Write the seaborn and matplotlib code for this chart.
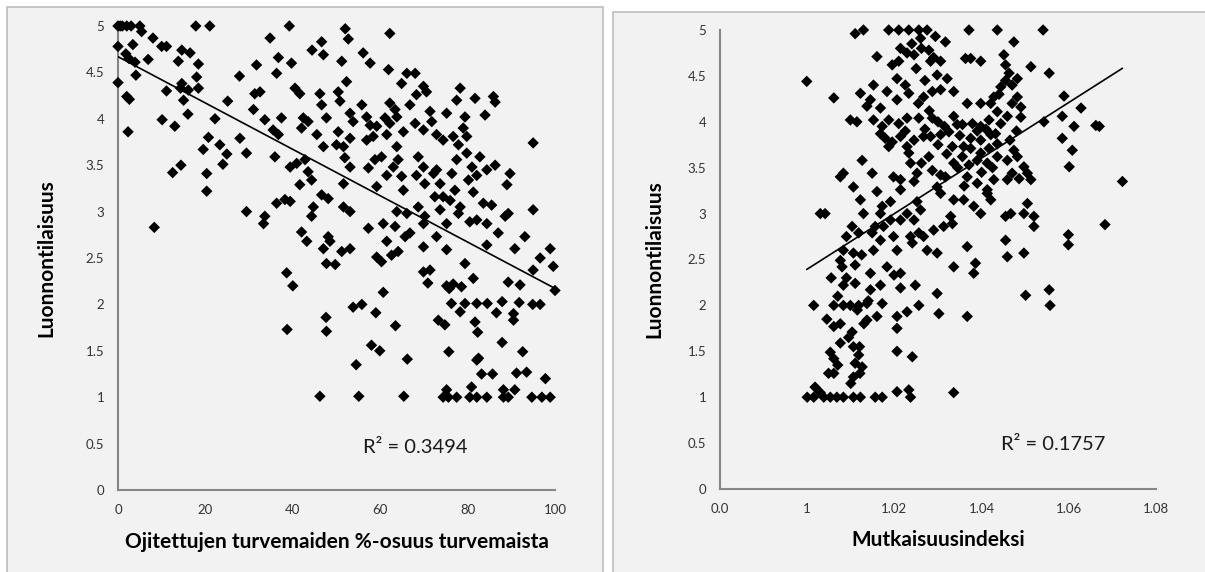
import numpy as np
import matplotlib
matplotlib.use("Agg")
import matplotlib.pyplot as plt
from matplotlib.patches import Rectangle
import seaborn as sns

# Vasen kuva: ojitettujen turvemaiden osuus (%) ja luonnontilaisuus
ojitus_pct = [
    0, 0.5, 1, 2, 3, 5, 5.4, 0, 0, 1.8, 3.4, 2.5, 3.9, 4.1,
    2, 2.6, 2.3, 6.9, 8, 8.3, 10, 11.1, 11.1, 10.1, 13, 13.8, 14.6, 16.5,
    14.6, 14.3, 16.1, 18.4, 15, 18.4, 18, 16, 12.5, 14.4, 17.8, 21, 20.3, 20.3,
    19.5, 20.7, 22.2, 23.3, 24.9, 24, 25.1, 27.8, 27.9, 29.4, 29.4,
    34.8, 36.7, 39.2, 46.6, 47.0, 52.0, 52.7, 44.4, 56.1, 62.2,
    31.7, 36.3, 39.7, 51.2, 52.3, 57.7, 61.9, 66.1, 68.0, 64.9, 69.9, 70.6,
    31.3, 32.5, 40.5, 41.6, 46.2, 46.6, 50.4, 50.8, 55.8, 62.2, 63.4, 66.8,
    68.3, 71.4, 75.2, 31.0, 33.6, 37.4, 42.4, 43.5, 42.0, 47.7, 53.1, 53.8,
    56.9, 57.7, 59.2, 61.1, 63.8, 62.2, 65.3, 68.0, 69.9, 71.8, 72.9, 74.4,
    35.5, 36.7, 45.5, 50.4, 53.1, 56.9, 58.4, 61.5, 63.8, 47.0, 50.0, 51.6,
    35.9, 39.4, 40.9, 42.8, 43.5, 44.3, 41.6, 51.9, 53.1, 51.6, 57.3, 58.8,
    60.3, 61.5, 63.0, 64.1, 64.9, 65.3, 59.2, 68.3, 68.7, 69.9, 70.2, 72.2,
    73.7, 72.9, 36.3, 38.2, 39.4, 44.7, 44.3, 46.6, 48.1, 51.6, 53.1,
    63.8, 66.1, 68.7, 70.2, 69.9, 72.5, 74.4, 73.7, 75.2, 33.6, 33.3, 42.0,
    43.2, 48.1, 48.5, 47.0, 51.2, 53.1, 57.3, 60.7, 63.4, 65.7, 66.8, 61.5,
    64.1, 62.6, 59.2, 60.3, 69.9, 72.9, 75.2, 38.6, 47.7, 49.7, 69.9, 71.4,
    78.3, 81.7, 85.9, 86.3, 84.0, 79.4, 79.8, 77.9, 82.8, 86.3, 81.0, 82.1,
    84.4, 89.7, 89.0, 95.0, 95.0, 77.1, 78.3, 77.9, 80.5, 82.1, 83.6, 85.5,
    84.4, 87.0, 89.3, 88.6, 93.1, 90.8, 84.4, 98.9, 96.6, 99.6, 95.0, 100.0,
    89.3, 92.0, 81.3, 79.4, 78.6, 77.5, 79.0, 76.7, 79.8,
    77.5, 76.4, 80.2, 76.0, 81.3,
    40.0, 60.7, 53.8, 55.8, 59.0, 47.6, 47.7, 38.7, 63.5, 58.0, 59.9, 54.5,
    66.2, 46.2, 55.1, 65.4, 70.9, 75.8, 75.2, 76.7, 76.3, 78.3, 79.4, 82.1,
    84.5, 87.9, 91.8, 94.9, 96.6, 86.6, 90.5, 90.5, 73.3, 74.8, 81.7, 82.3,
    87.9, 92.6, 75.7, 82.5, 82.1, 83.2, 85.7, 91.2, 93.5, 97.8, 75.2, 80.9,
    90.8, 88.2, 74.4, 75.6, 77.5, 80.5, 82.1, 84.4, 88.2, 89.3, 94.7, 97.0, 98.9,
]
luonto_vasen = [
    5, 5, 5, 5, 5, 5, 4.94, 4.78, 4.39, 4.7, 4.8, 4.65, 4.61, 4.47,
    4.24, 4.21, 3.86, 4.64, 4.87, 2.83, 4.78, 4.78, 4.3, 3.99, 3.92, 4.62, 4.74, 4.71,
    4.38, 4.33, 4.31, 4.33, 4.2, 4.59, 4.45, 4.05, 3.42, 3.5, 5, 5, 3.41, 3.22,
    3.67, 3.8, 4.0, 3.72, 3.62, 3.51, 4.19, 4.46, 3.79, 3.63, 3.0,
    4.87, 4.66, 5.0, 4.83, 4.69, 4.97, 4.86, 4.74, 4.71, 4.92,
    4.58, 4.49, 4.60, 4.62, 4.40, 4.60, 4.53, 4.49, 4.49, 4.38, 4.35, 4.29,
    4.27, 4.29, 4.33, 4.27, 4.27, 4.15, 4.29, 4.19, 4.15, 4.17, 4.10, 4.15,
    4.26, 4.08, 4.06, 4.10, 3.99, 4.01, 4.01, 3.97, 3.90, 4.01, 4.06, 3.97,
    4.02, 3.93, 3.92, 4.01, 4.02, 3.95, 3.86, 3.95, 3.88, 3.97, 3.83, 3.77,
    3.88, 3.83, 3.83, 3.86, 3.79, 3.77, 3.81, 3.83, 3.70, 3.70, 3.72, 3.70,
    3.59, 3.48, 3.52, 3.56, 3.43, 3.34, 3.29, 3.58, 3.48, 3.30, 3.47, 3.56,
    3.59, 3.39, 3.48, 3.56, 3.38, 3.23, 3.27, 3.39, 3.59, 3.48, 3.30, 3.41,
    3.30, 3.45, 3.09, 3.13, 3.11, 3.05, 2.95, 3.18, 3.14, 3.05, 3.00,
    3.00, 2.98, 3.05, 2.95, 2.87, 3.16, 3.16, 3.02, 2.87, 2.95, 2.87, 2.78,
    2.68, 2.73, 2.68, 2.60, 2.57, 2.60, 2.82, 2.87, 2.84, 2.73, 2.77, 2.68,
    2.57, 2.53, 2.51, 2.46, 2.62, 2.73, 2.59, 2.34, 2.44, 2.43, 2.35, 2.37,
    4.33, 4.22, 4.24, 4.18, 4.04, 4.02, 3.81, 3.72, 3.59, 3.50, 3.48, 3.39,
    3.45, 3.41, 3.29, 3.74, 3.02, 3.23, 3.05, 2.98, 2.89, 2.91, 3.09, 3.07,
    2.87, 2.77, 2.98, 2.95, 2.73, 2.60, 2.64, 2.60, 2.50, 2.41, 2.37, 2.15,
    2.24, 2.21, 2.28, 2.44, 2.19, 4.20, 3.90, 3.81, 3.63,
    3.56, 3.41, 3.34, 3.12, 3.21,
    2.20, 2.13, 1.97, 2.00, 1.91, 1.86, 1.71, 1.73, 1.77, 1.56, 1.50, 1.35,
    1.41, 1.01, 1.01, 1.01, 2.23, 2.17, 2.20, 2.22, 2.01, 1.92, 2.01, 2.01,
    2.01, 2.03, 2.02, 2.00, 2.00, 1.91, 1.90, 1.83, 1.83, 1.78, 1.81, 1.70,
    1.59, 1.49, 1.49, 1.42, 1.40, 1.25, 1.25, 1.26, 1.27, 1.20, 1.08, 1.11,
    1.08, 1.08, 1.0, 1.0, 1.0, 1.0, 1.0, 1.0, 1.0, 1.0, 1.0, 1.0, 1.0,
]

# Oikea kuva: mutkaisuusindeksi ja luonnontilaisuus
mutkaisuus = [
    0.9999, 1.0061, 1.0110, 1.0129, 1.0187, 1.0210, 1.0233, 1.0256, 1.0275, 1.0260, 1.0279, 1.0294,
    1.0317, 1.0214, 1.0229, 1.0245, 1.0160, 1.0195, 1.0210, 1.0283, 1.0306, 1.0206, 1.0298, 1.0321,
    1.0122, 1.0152, 1.0183, 1.0206, 1.0233, 1.0267, 1.0287, 1.0306, 1.0336, 1.0137, 1.0145, 1.0168,
    1.0099, 1.0114, 1.0152, 1.0172, 1.0187, 1.0210, 1.0229, 1.0256, 1.0287, 1.0168, 1.0179, 1.0187,
    1.0195, 1.0214, 1.0229, 1.0245, 1.0267, 1.0283, 1.0306, 1.0325, 1.0336, 1.0344, 1.0333, 1.0336,
    1.0233, 1.0237, 1.0279, 1.0287, 1.0126, 1.0083, 1.0076, 1.0149, 1.0106, 1.0160, 1.0122, 1.0198,
    1.0214, 1.0245, 1.0252, 1.0306, 1.0317, 1.0306, 1.0298, 1.0336, 1.0191, 1.0214, 1.0129, 1.0172,
    1.0168, 1.0252, 1.0260, 1.0030, 1.0041, 1.0229, 1.0214, 1.0245, 1.0103, 1.0118, 1.0149, 1.0156,
    1.0175, 1.0191, 1.0198, 1.0237, 1.0256, 1.0267, 1.0290, 1.0313, 1.0329, 1.0333, 1.0168, 1.0152,
    1.0083, 1.0106, 1.0206, 1.0241, 1.0275, 1.0298,
    1.0240, 1.0262, 1.0290, 1.0250, 1.0270, 1.0225, 1.0255, 1.0280, 1.0300, 1.0315, 1.0270, 1.0225,
    1.0300, 1.0320, 1.0262, 1.0350, 1.0390, 1.0410, 1.0440, 1.0455, 1.0470, 1.0490, 1.0465, 1.0480,
    1.0400, 1.0425, 1.0345, 1.0360,
    1.0076, 1.0080, 1.0110, 1.0145, 1.0183, 1.0214, 1.0199, 1.0083, 1.0110, 1.0145, 1.0168, 1.0214,
    1.0248, 1.0336, 1.0298, 1.0015, 1.0061, 1.0083, 1.0099, 1.0118, 1.0137, 1.0172, 1.0160, 1.0137,
    1.0206, 1.0229, 1.0256, 1.0206, 1.0302, 1.0061, 1.0076, 1.0103, 1.0076, 1.0106, 1.0118, 1.0053,
    1.0061, 1.0110, 1.0126, 1.0049, 1.0061, 1.0106, 1.0121, 1.0206, 1.0241, 1.0018,
    1.0045, 1.0070, 1.0090, 1.0095, 1.0070, 1.0115, 1.0125, 1.0090, 1.0100, 1.0130, 1.0140, 1.0055,
    1.0030, 1.0120,
    1.0000, 1.0015, 1.0038, 1.0053, 1.0068, 1.0083, 1.0106, 1.0122, 1.0156, 1.0172,
    1.0206, 1.0233, 1.0237, 1.0336,
    1.0371, 1.0436, 1.0541, 1.0474, 1.0363, 1.0375, 1.0398, 1.0451, 1.0455, 1.0513, 1.0555, 1.0463,
    1.0482, 1.0470, 1.0444, 1.0428, 1.0482, 1.0490, 1.0367, 1.0398, 1.0421, 1.0436, 1.0459, 1.0444,
    1.0356, 1.0379, 1.0398, 1.0417, 1.0375, 1.0398, 1.0421, 1.0432, 1.0359, 1.0375, 1.0398, 1.0417,
    1.0436, 1.0474, 1.0482, 1.0497, 1.0505, 1.0513, 1.0356, 1.0371, 1.0390, 1.0413, 1.0436, 1.0459,
    1.0367, 1.0390, 1.0413, 1.0428, 1.0459, 1.0470, 1.0486, 1.0359, 1.0382, 1.0398, 1.0413, 1.0421,
    1.0455, 1.0467, 1.0497, 1.0505, 1.0520, 1.0520, 1.0367, 1.0386, 1.0382, 1.0455, 1.0459, 1.0497,
    1.0501, 1.0555, 1.0543, 1.0585, 1.0628, 1.0612, 1.0585, 1.0608, 1.0601, 1.0589, 1.0670, 1.0662,
    1.0723, 1.0683, 1.0599, 1.0599, 1.0367, 1.0557,
]
luonto_oikea = [
    4.44, 4.26, 4.96, 5.0, 5.0, 5.0, 5.0, 5.0, 5.0, 4.91, 4.78, 4.93,
    4.87, 4.80, 4.75, 4.73, 4.71, 4.62, 4.66, 4.66, 4.66, 4.47, 4.51, 4.47,
    4.31, 4.40, 4.33, 4.24, 4.31, 4.27, 4.33, 4.35, 4.33, 4.17, 4.24, 4.15,
    4.02, 4.0, 4.02, 3.95, 4.02, 3.98, 4.04, 4.04, 4.04, 3.87, 3.82, 3.73,
    3.78, 3.84, 3.73, 3.80, 3.84, 3.84, 3.86, 3.89, 4.06, 3.97, 3.73, 3.55,
    3.66, 3.55, 3.62, 3.47, 3.58, 3.44, 3.40, 3.44, 3.29, 3.24, 3.15, 3.40,
    3.37, 3.35, 3.44, 3.42, 3.40, 3.22, 3.29, 3.15, 3.13, 3.26, 3.0, 3.08,
    3.0, 3.13, 3.04, 3.0, 3.0, 3.0, 2.93, 2.93, 2.86, 2.79, 2.79, 2.86,
    2.86, 2.93, 2.75, 2.75, 2.79, 2.75, 2.82, 2.86, 2.97, 2.89, 2.71, 2.60,
    2.60, 2.57, 2.60, 2.68, 2.60, 2.57,
    4.85, 4.80, 4.70, 4.58, 4.45, 4.40, 4.20, 4.12, 4.00, 3.95, 3.92, 3.90,
    3.75, 3.65, 3.55, 3.85, 3.90, 3.92, 4.30, 4.45, 4.20, 4.05, 3.80, 3.90,
    3.45, 3.50, 3.50, 3.30,
    2.49, 2.42, 2.44, 2.35, 2.42, 2.35, 2.33, 2.22, 2.24, 2.17, 2.22, 2.19,
    2.22, 2.42, 2.13, 2.0, 2.0, 2.0, 2.0, 2.0, 2.02, 2.02, 1.88, 1.84,
    1.88, 1.93, 2.0, 1.75, 1.91, 1.77, 1.80, 1.71, 1.59, 1.55, 1.46, 1.49,
    1.42, 1.37, 1.33, 1.26, 1.26, 1.22, 1.26, 1.50, 1.44, 1.11,
    1.85, 2.10, 2.30, 1.65, 1.35, 1.95, 2.55, 2.75, 1.15, 1.80, 2.05, 2.30,
    1.05, 1.55,
    1.0, 1.0, 1.0, 1.0, 1.0, 1.0, 1.0, 1.0, 1.0, 1.0,
    1.06, 1.08, 1.0, 1.05,
    5.0, 5.0, 5.0, 4.87, 4.69, 4.69, 4.66, 4.73, 4.62, 4.60, 4.53, 4.53,
    4.47, 4.40, 4.38, 4.27, 4.27, 4.16, 4.2, 4.2, 4.2, 4.11, 4.06, 3.98,
    3.97, 3.98, 3.95, 4.02, 3.82, 3.80, 3.86, 3.87, 3.73, 3.71, 3.66, 3.71,
    3.76, 3.69, 3.62, 3.51, 3.44, 3.37, 3.62, 3.53, 3.58, 3.55, 3.62, 3.58,
    3.40, 3.33, 3.26, 3.37, 3.37, 3.44, 3.38, 3.15, 3.08, 3.0, 3.22, 3.15,
    2.97, 3.0, 3.0, 3.11, 2.97, 2.86, 2.64, 2.46, 2.35, 2.71, 2.53, 2.57,
    2.11, 2.17, 4.0, 4.06, 4.15, 3.95, 3.82, 3.69, 3.51, 4.28, 3.95, 3.96,
    3.35, 2.88, 2.77, 2.66, 1.88, 2.0,
]

y_ticks = [0, 0.5, 1, 1.5, 2, 2.5, 3, 3.5, 4, 4.5, 5]
y_tick_labels = ["0", "0.5", "1", "1.5", "2", "2.5", "3", "3.5", "4", "4.5", "5"]
x_ticks_left = [0, 20, 40, 60, 80, 100]
x_tick_labels_left = ["0", "20", "40", "60", "80", "100"]
x_ticks_right = [0.98, 1.0, 1.02, 1.04, 1.06, 1.08]
x_tick_labels_right = ["0.0", "1", "1.02", "1.04", "1.06", "1.08"]

BG = "#f2f2f2"
AXIS_GREY = "#868686"

sns.set_theme(style="white")
plt.rcParams["font.family"] = ["Lato", "DejaVu Sans"]


def draw_panel(ax, x, y, xlabel, xticks, xticklabels, xlim, r2_text, r2_xy):
    ax.set_facecolor(BG)
    sns.scatterplot(x=x, y=y, ax=ax, marker="D", s=34, color="black",
                    edgecolor="none", linewidth=0, clip_on=False, zorder=3,
                    legend=False)
    sns.regplot(x=np.array(x), y=np.array(y), ax=ax, scatter=False, ci=None,
                truncate=True, line_kws=dict(color="black", lw=1.2, zorder=4))
    ax.set_xlim(*xlim)
    ax.set_ylim(0, 5)
    ax.set_xticks(xticks)
    ax.set_xticklabels(xticklabels)
    ax.set_yticks(y_ticks)
    ax.set_yticklabels(y_tick_labels)
    for side in ["top", "right"]:
        ax.spines[side].set_visible(False)
    for side in ["left", "bottom"]:
        ax.spines[side].set_color(AXIS_GREY)
        ax.spines[side].set_linewidth(1.5)
    ax.tick_params(axis="both", direction="out", length=4, width=1.5,
                   color=AXIS_GREY, labelsize=9.5, labelcolor="#333333", pad=6)
    ax.set_xlabel(xlabel, fontsize=15, fontweight="bold", color="black")
    ax.set_ylabel("Luonnontilaisuus", fontsize=15, fontweight="bold", color="black")
    ax.xaxis.set_label_coords(0.5, -0.09)
    ax.text(r2_xy[0], r2_xy[1], r2_text, fontsize=14.5, color="#1a1a1a",
            ha="left", va="center")


fig = plt.figure(figsize=(12.05, 5.72), dpi=100, facecolor="white")

# harmaat taustalaatikot kuten Excelissä
fig.add_artist(Rectangle((7 / 1205, -0.01), 596 / 1205, 1.01 - 7 / 572,
                         transform=fig.transFigure, facecolor=BG,
                         edgecolor="#bdbdbd", lw=1.2, zorder=-2))
fig.add_artist(Rectangle((613 / 1205, -0.01), 600 / 1205, 1.01 - 12 / 572,
                         transform=fig.transFigure, facecolor=BG,
                         edgecolor="#bdbdbd", lw=1.2, zorder=-2))

ax1 = fig.add_axes([118 / 1205, 82 / 572, 437 / 1205, 464 / 572])
ax2 = fig.add_axes([720 / 1205, 83 / 572, 436 / 1205, 459 / 572])

draw_panel(ax1, ojitus_pct, luonto_vasen,
           "Ojitettujen turvemaiden %-osuus turvemaista",
           x_ticks_left, x_tick_labels_left, (0, 100),
           "R² = 0.3494", (56.1, 0.46))
ax1.yaxis.set_label_coords(-0.14, 0.5)

draw_panel(ax2, mutkaisuus, luonto_oikea, "Mutkaisuusindeksi",
           x_ticks_right, x_tick_labels_right, (0.98, 1.08),
           "R² = 0.1757", (1.0444, 0.48))
ax2.yaxis.set_label_coords(-0.128, 0.5)

fig.savefig("out.png", dpi=100, facecolor="white")
